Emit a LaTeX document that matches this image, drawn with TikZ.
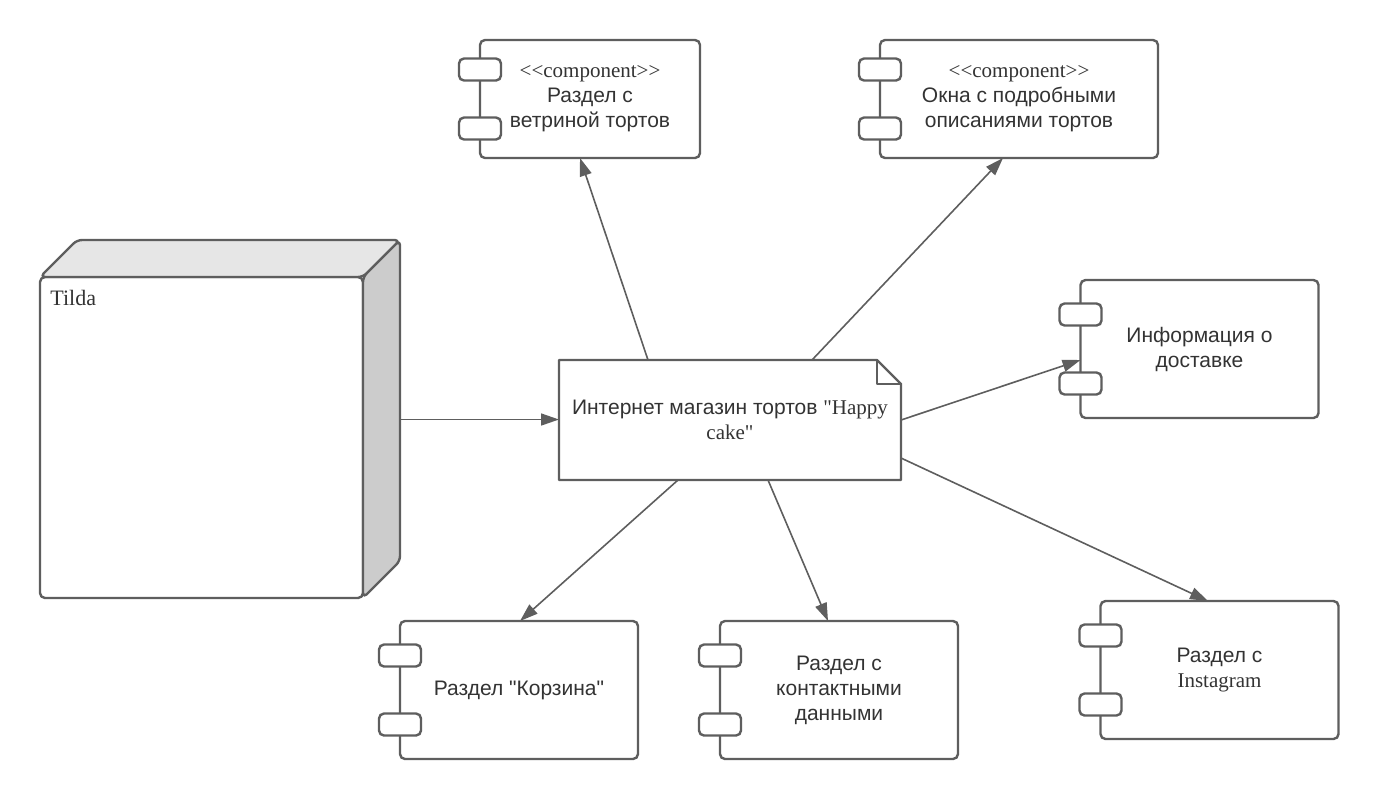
\documentclass[tikz,border=0pt]{standalone}
\usepackage{fontspec}
\setmainfont{Liberation Sans}[Ligatures=TeXOff]
\newfontfamily\lat{Liberation Serif}[Ligatures=TeXOff]
\usetikzlibrary{arrows.meta,calc}
\definecolor{edge}{HTML}{5E5E5E}
\definecolor{ink}{HTML}{333333}
\definecolor{topface}{HTML}{E6E6E6}
\definecolor{sideface}{HTML}{CCCCCC}

\begin{document}
\begin{tikzpicture}[x=0.5pt, y=-0.5pt, text=ink, font=\fontsize{10.5}{12.5}\selectfont,
    comp/.style={draw=edge, line width=1.2pt, rounded corners=2.5pt, fill=white, align=center,
        inner sep=0pt, outer sep=0pt, minimum width=119pt, minimum height=69pt},
    port/.style={draw=edge, line width=1.2pt, rounded corners=2.5pt, fill=white},
    face/.style={draw=edge, line width=1.2pt, rounded corners=2.5pt, line join=round, outer sep=0pt},
    arr/.style={draw=edge, line width=0.8pt, -{Triangle[length=9pt,width=6pt]}}]
    \useasboundingbox (0,0) rectangle (1380,800);

    % node Tilda
    \node[face, fill=white, minimum width=161.5pt, minimum height=160.5pt] (tilda) at (201.5,437.5) {};
    \draw[face, fill=topface] (tilda.north west) -- ++(37,-37) -- ($(tilda.north east)+(37,-37)$)
        -- (tilda.north east) -- cycle;
    \draw[face, fill=sideface] (tilda.north east) -- ++(37,-37) -- ($(tilda.south east)+(37,-37)$)
        -- (tilda.south east) -- cycle;
    \node[anchor=north west, inner sep=0pt, font=\lat\fontsize{11}{13}\selectfont] (tildalbl)
        at ([xshift=5pt, yshift=-6.5pt]tilda.north west) {Tilda};
    \coordinate (tside) at ($(tilda.east)+(37,-18)$);

    % artifact
    \node[align=center, inner sep=0pt, outer sep=0pt, minimum width=171pt, minimum height=60pt] (note)
        at (730,420) {Интернет магазин тортов {\lat"Happy}\\{\lat cake"}};
    \draw[face, rounded corners=0pt] (note.north west) -- ($(note.north east)+(-24,0)$)
        -- ($(note.north east)+(0,24)$) -- (note.south east) -- (note.south west) -- cycle;
    \draw[face, rounded corners=0pt] ($(note.north east)+(-24,0)$) -- ++(0,24) -- ++(24,0);

    % components
    \node[comp, minimum width=110pt, minimum height=59pt] (vitr) at (590,99)
        {{\lat <<component>>}\\Раздел с\\ветриной тортов};
    \node[comp, minimum width=139pt, minimum height=59pt] (okna) at (1019,99)
        {{\lat <<component>>}\\Окна с подробными\\описаниями тортов};
    \node[comp] (info) at (1199.5,349) {Информация о\\доставке};
    \node[comp] (korz) at (519,690) {Раздел "Корзина"};
    \node[comp] (kont) at (839,690) {Раздел с\\контактными\\данными};
    \node[comp] (inst) at (1219.5,670) {Раздел с\\{\lat Instagram}};
    \foreach \c in {vitr,okna,info,korz,kont,inst}
        \foreach \f in {0.25,0.75}
            \draw[port] ($(\c.north west)!\f!(\c.south west)+(-21,-11)$) rectangle ++(42,22);

    % connectors
    \draw[arr] (tside) -- (tside -| note.west);
    \draw[arr] ([xshift=-41pt]note.north) -- ([xshift=-5pt]vitr.south);
    \draw[arr] ([xshift=41pt]note.north) -- ([xshift=-8pt]okna.south);
    \draw[arr] (note.east) -- ([yshift=-5.5pt]info.west);
    \draw[arr] ([yshift=-19pt]note.east) -- ([xshift=-5.75pt]inst.north);
    \draw[arr] ([xshift=-26pt]note.south) -- ([xshift=0.5pt]korz.north);
    \draw[arr] ([xshift=19pt]note.south) -- ([xshift=-5.5pt]kont.north);
\end{tikzpicture}
\end{document}
